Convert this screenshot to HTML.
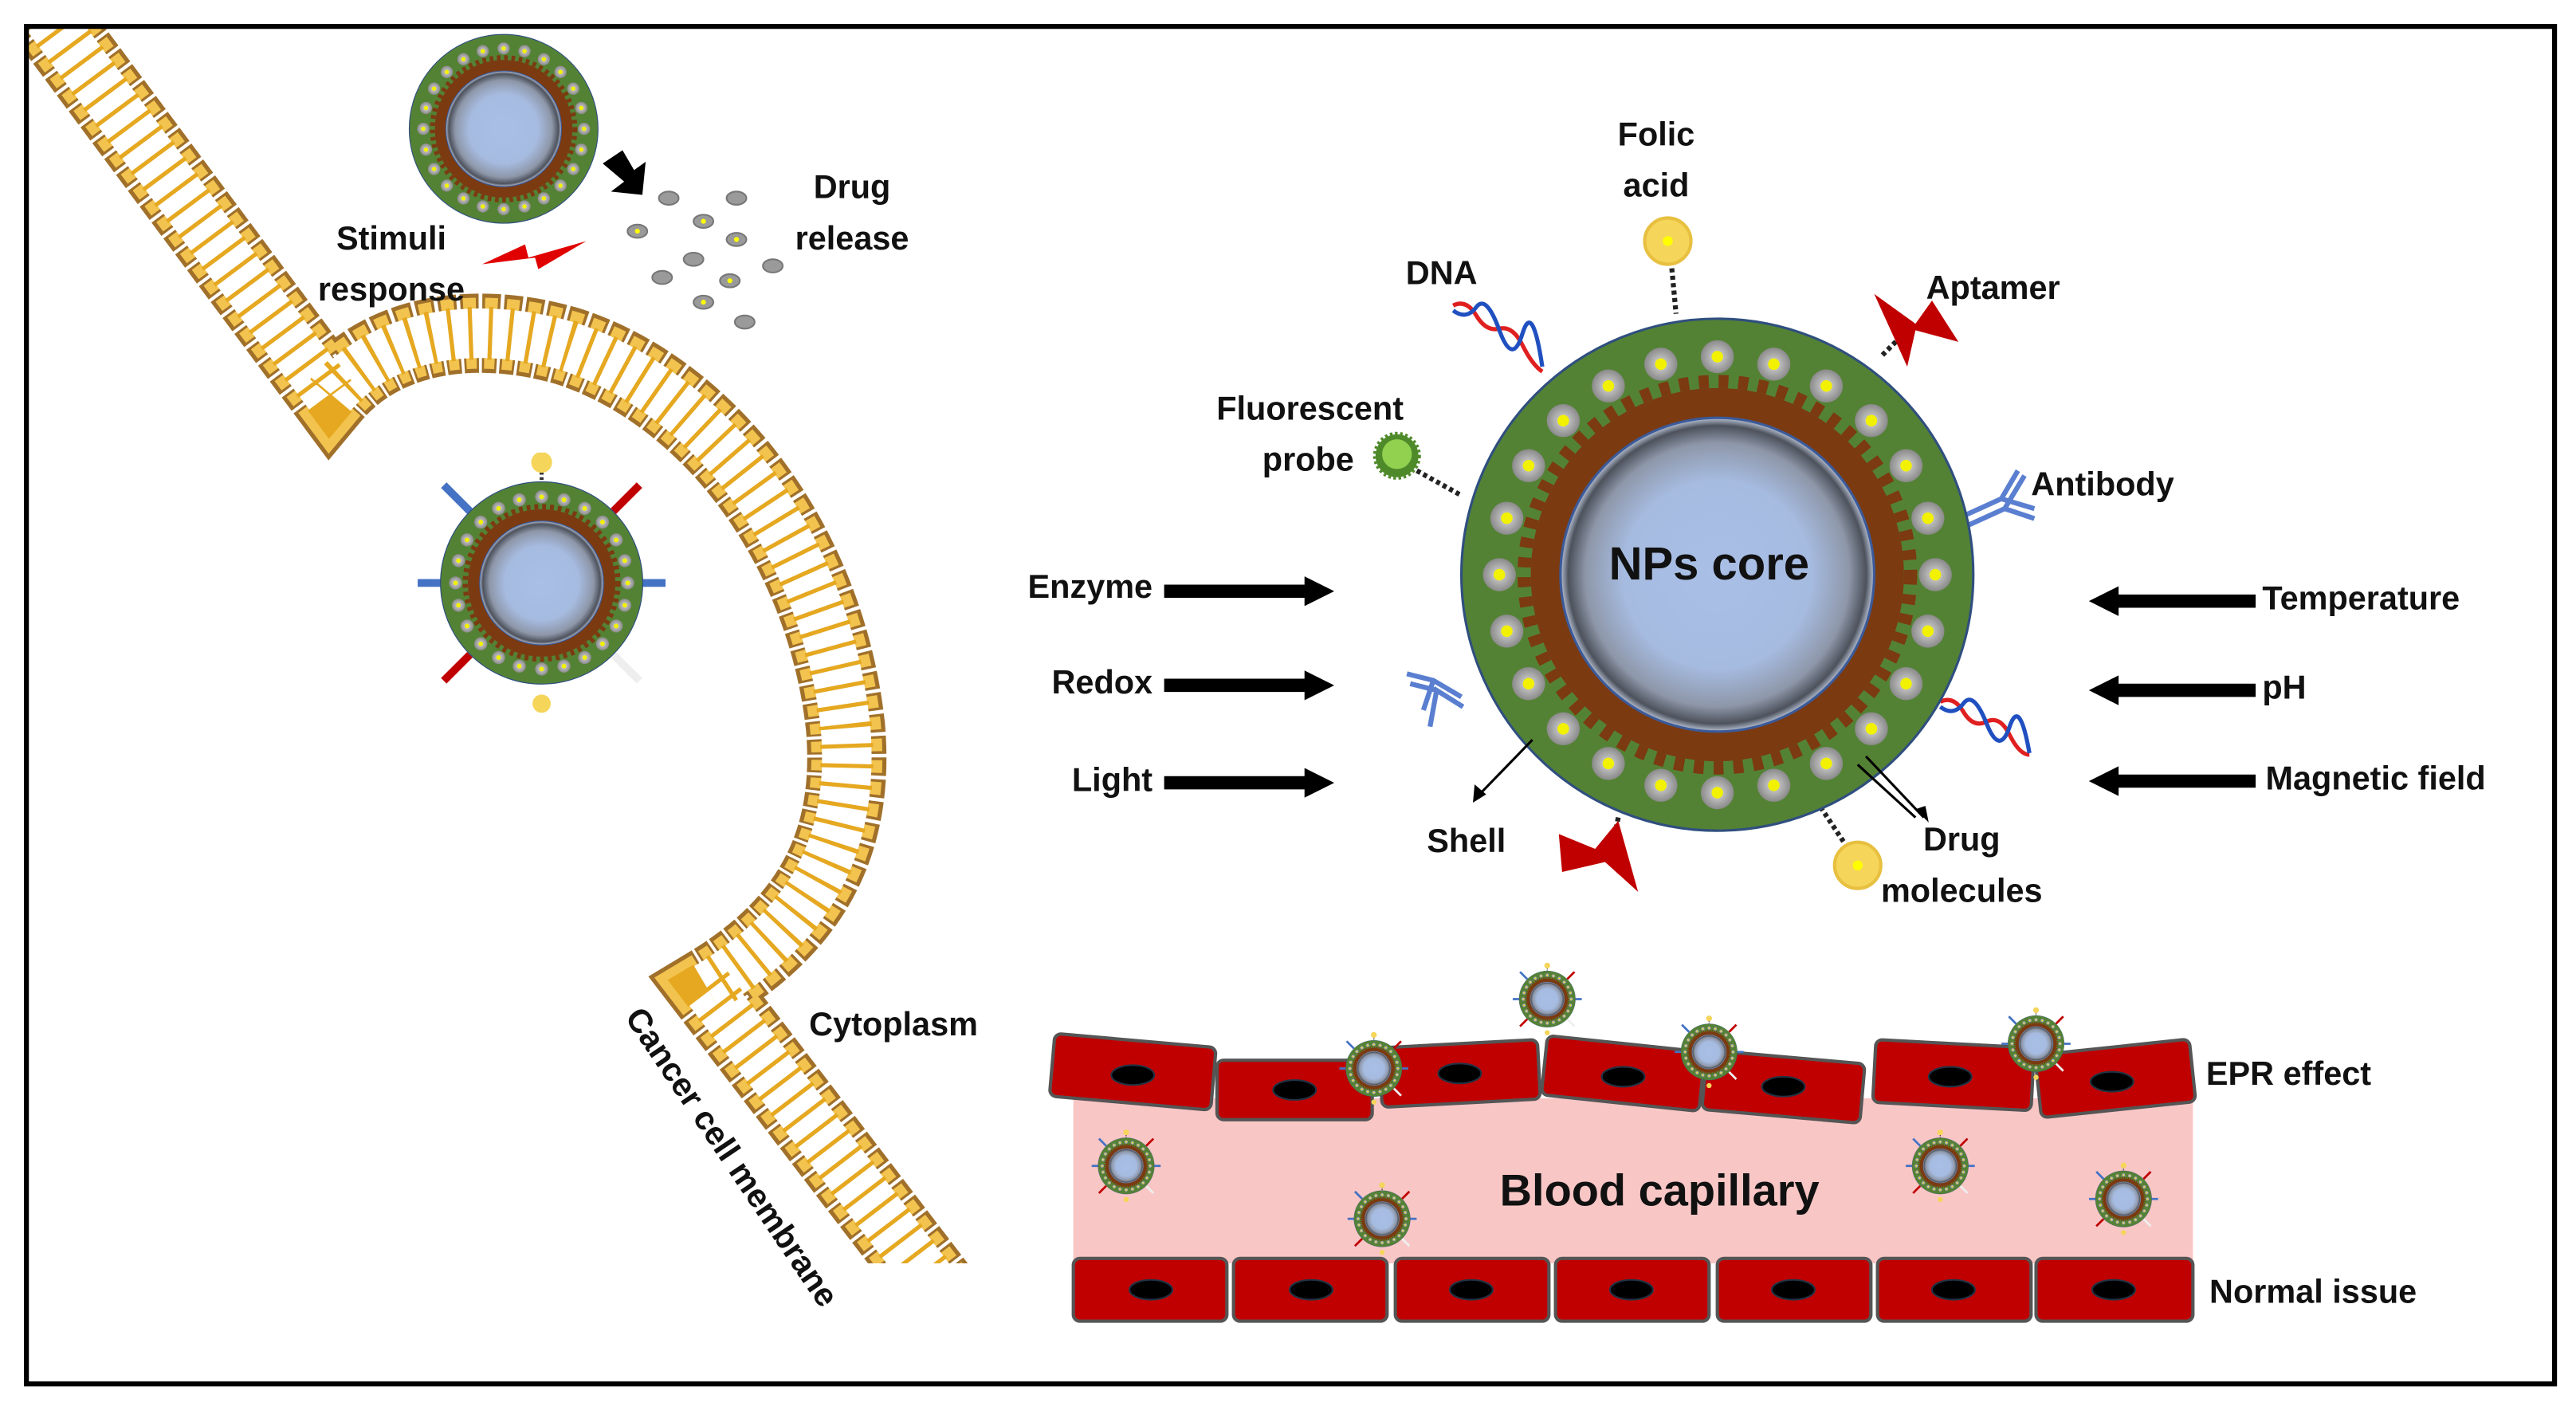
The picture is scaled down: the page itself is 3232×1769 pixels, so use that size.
<!DOCTYPE html>
<html><head><meta charset="utf-8"><style>
html,body{margin:0;padding:0;background:#fff}
svg{display:block}
text{font-family:"Liberation Sans",sans-serif;font-weight:bold;fill:#111}
</style></head><body>
<svg width="3232" height="1769" viewBox="0 0 1560 853.8" preserveAspectRatio="none" xmlns="http://www.w3.org/2000/svg">
<defs>
<radialGradient id="core" cx="50%" cy="50%" r="50%">
<stop offset="0" stop-color="#a9bfe6"/><stop offset="0.6" stop-color="#a6bbe0"/>
<stop offset="0.84" stop-color="#8e97a9"/><stop offset="0.95" stop-color="#4d525c"/><stop offset="1" stop-color="#b9c3d6"/>
</radialGradient>
<radialGradient id="dot" cx="50%" cy="50%" r="50%">
<stop offset="0" stop-color="#d8d8d8"/><stop offset="1" stop-color="#8a8a8a"/>
</radialGradient>
<g id="d"><circle r="10" fill="url(#dot)"/><circle r="3.5" fill="#f2f200"/></g>
<symbol id="np" viewBox="-160 -160 320 320">
<circle r="155" fill="#548235" stroke="#2f4f7f" stroke-width="1.5"/>
<circle r="113" fill="#7b3a10"/>
<circle r="117" fill="none" stroke="#7b3a10" stroke-width="8" stroke-dasharray="6 6"/>
<circle r="95" fill="url(#core)" stroke="#3b5a9a" stroke-width="1.5"/>
<use href="#d" x="132" y="0"/><use href="#d" x="127.5" y="34.2"/><use href="#d" x="114.3" y="66"/><use href="#d" x="93.3" y="93.3"/>
<use href="#d" x="66" y="114.3"/><use href="#d" x="34.2" y="127.5"/><use href="#d" x="0" y="132"/><use href="#d" x="-34.2" y="127.5"/>
<use href="#d" x="-66" y="114.3"/><use href="#d" x="-93.3" y="93.3"/><use href="#d" x="-114.3" y="66"/><use href="#d" x="-127.5" y="34.2"/>
<use href="#d" x="-132" y="0"/><use href="#d" x="-127.5" y="-34.2"/><use href="#d" x="-114.3" y="-66"/><use href="#d" x="-93.3" y="-93.3"/>
<use href="#d" x="-66" y="-114.3"/><use href="#d" x="-34.2" y="-127.5"/><use href="#d" x="0" y="-132"/><use href="#d" x="34.2" y="-127.5"/>
<use href="#d" x="66" y="-114.3"/><use href="#d" x="93.3" y="-93.3"/><use href="#d" x="114.3" y="-66"/><use href="#d" x="127.5" y="-34.2"/>
</symbol>
<symbol id="npl" viewBox="-200 -200 400 400">
<line x1="0" y1="-150" x2="0" y2="-190" stroke="#333" stroke-width="6" stroke-dasharray="4 4"/>
<circle cx="0" cy="-185" r="16" fill="#f5d55a"/>
<line x1="-110" y1="-110" x2="-150" y2="-150" stroke="#4472c4" stroke-width="12"/>
<line x1="110" y1="-110" x2="150" y2="-150" stroke="#c00000" stroke-width="12"/>
<line x1="-155" y1="0" x2="-190" y2="0" stroke="#4472c4" stroke-width="12"/>
<line x1="155" y1="0" x2="190" y2="0" stroke="#4472c4" stroke-width="12"/>
<line x1="-110" y1="110" x2="-150" y2="150" stroke="#c00000" stroke-width="12"/>
<line x1="110" y1="110" x2="150" y2="150" stroke="#eee" stroke-width="12"/>
<circle cx="0" cy="185" r="14" fill="#f5d55a"/>
<use href="#np" x="-160" y="-160" width="320" height="320"/>
</symbol>
<path id="mem" d="M 25,5 L 200,240 C 235,198 295,195 345,210 C 430,238 500,330 512,440 C 518,510 492,560 428,598 L 575,790"/>
<clipPath id="mc"><rect x="17" y="17" width="1500" height="748"/></clipPath>
</defs>
<rect x="0" y="0" width="1560" height="853.8" fill="#fff"/>

<!-- membrane -->
<g clip-path="url(#mc)" fill="none">
<use href="#mem" style="stroke:#a0702a;stroke-width:48;stroke-dasharray:10 2;fill:none"/>
<use href="#mem" style="stroke:#f2c34e;stroke-width:43;stroke-dasharray:7 5;stroke-dashoffset:-1.5;fill:none"/>
<use href="#mem" style="stroke:#fff;stroke-width:30;fill:none"/>
<use href="#mem" style="stroke:#e5a820;stroke-width:32;stroke-dasharray:2.5 9.5;stroke-dashoffset:-3.75;fill:none"/>
</g>

<!-- border -->
<rect x="16" y="16" width="1531" height="822" fill="none" stroke="#000" stroke-width="3"/>

<!-- top small NP and drug release -->
<use href="#np" x="246" y="19" width="118" height="118"/>
<polygon points="365,99 377,91 384,103 391,98 389,118 370,116 378,110" fill="#000"/>
<polygon points="292,160 318,148 320,156 355,146 326,163 324,156" fill="#e00000"/>
<g fill="#9a9a9a" stroke="#777" stroke-width="1">
<ellipse cx="386" cy="140" rx="6" ry="4"/><ellipse cx="405" cy="120" rx="6" ry="4"/><ellipse cx="426" cy="134" rx="6" ry="4"/>
<ellipse cx="446" cy="120" rx="6" ry="4"/><ellipse cx="446" cy="145" rx="6" ry="4"/><ellipse cx="420" cy="157" rx="6" ry="4"/>
<ellipse cx="401" cy="168" rx="6" ry="4"/><ellipse cx="442" cy="170" rx="6" ry="4"/><ellipse cx="468" cy="161" rx="6" ry="4"/>
<ellipse cx="426" cy="183" rx="6" ry="4"/><ellipse cx="451" cy="195" rx="6" ry="4"/>
</g>
<g fill="#ff0" ><circle cx="386" cy="140" r="1.5"/><circle cx="426" cy="134" r="1.5"/><circle cx="446" cy="145" r="1.5"/><circle cx="442" cy="170" r="1.5"/><circle cx="426" cy="183" r="1.5"/></g>
<text x="516" y="120" font-size="20" text-anchor="middle">Drug</text>
<text x="516" y="151" font-size="20" text-anchor="middle">release</text>
<text x="237" y="151" font-size="20" text-anchor="middle">Stimuli</text>
<text x="237" y="182" font-size="20" text-anchor="middle">response</text>

<!-- middle NP with ligands -->
<use href="#npl" x="249" y="274" width="158" height="158"/>

<!-- big NP ligands -->
<g stroke="#222" stroke-width="3" stroke-dasharray="2.5 2" fill="none">
<line x1="1012" y1="158" x2="1015" y2="190"/>
<line x1="1140" y1="215" x2="1155" y2="200"/>
<line x1="858" y1="285" x2="885" y2="300"/>
<line x1="1100" y1="485" x2="1120" y2="515"/>
<line x1="980" y1="495" x2="975" y2="520"/>
</g>
<circle cx="1010" cy="146" r="14" fill="#f5d55a" stroke="#e8c040" stroke-width="2"/><circle cx="1010" cy="146" r="3" fill="#ff0"/>
<circle cx="1125" cy="524" r="14" fill="#f5d55a" stroke="#e8c040" stroke-width="2"/><circle cx="1125" cy="524" r="3" fill="#ff0"/>
<circle cx="846" cy="276" r="13" fill="#4f8a2a" stroke="#4f8a2a" stroke-width="3" stroke-dasharray="1.5 1.5"/><circle cx="846" cy="275" r="9" fill="#92d050"/>
<polygon points="1135,178 1160,196 1170,182 1186,207 1160,200 1155,222" fill="#c00000"/>
<polygon points="944,505 966,514 980,497 992,540 972,522 946,528" fill="#c00000"/>
<path d="M 880,185 q 8,-4 14,6 t 14,8 t 14,10 t 12,16" stroke="#e02020" stroke-width="2.5" fill="none"/>
<path d="M 880,188 q 8,6 14,-2 t 14,14 t 14,2 t 12,20" stroke="#2050c0" stroke-width="2.5" fill="none"/>
<path d="M 1175,425 q 8,-4 14,6 t 14,6 t 14,8 t 12,12" stroke="#e02020" stroke-width="2.5" fill="none"/>
<path d="M 1175,428 q 8,6 14,-2 t 14,12 t 14,2 t 12,16" stroke="#2050c0" stroke-width="2.5" fill="none"/>
<g stroke="#5b7fd0" stroke-width="3" fill="none">
<path d="M 1190,312 L 1212,302 L 1222,285 M 1212,302 L 1232,308 M 1192,318 L 1214,308 L 1232,314 M 1214,308 L 1226,288"/>
<path d="M 885,422 L 868,412 L 852,408 M 868,412 L 862,430 M 886,428 L 870,418 L 866,440 M 870,418 L 854,414"/>
</g>

<!-- big NP -->
<use href="#np" x="880" y="188" width="320" height="320"/>
<text x="1035" y="351" font-size="28" text-anchor="middle">NPs core</text>

<!-- labels around -->
<text x="1003" y="88" font-size="20" text-anchor="middle">Folic</text>
<text x="1003" y="119" font-size="20" text-anchor="middle">acid</text>
<text x="873" y="172" font-size="20" text-anchor="middle">DNA</text>
<text x="1207" y="181" font-size="20" text-anchor="middle">Aptamer</text>
<text x="850" y="254" font-size="20" text-anchor="end">Fluorescent</text>
<text x="820" y="285" font-size="20" text-anchor="end">probe</text>
<text x="1230" y="300" font-size="20">Antibody</text>
<text x="888" y="516" font-size="20" text-anchor="middle">Shell</text>
<text x="1188" y="515" font-size="20" text-anchor="middle">Drug</text>
<text x="1188" y="546" font-size="20" text-anchor="middle">molecules</text>
<g stroke="#000" stroke-width="1.5" fill="none">
<line x1="928" y1="448" x2="895" y2="482"/>
<line x1="1130" y1="458" x2="1165" y2="495"/>
<line x1="1125" y1="463" x2="1160" y2="495"/>
</g>
<polygon points="892,486 893,475 900,481" fill="#000"/>
<polygon points="1168,498 1160,490 1166,488" fill="#000"/>

<!-- stimuli arrows -->
<text x="698" y="362" font-size="20" text-anchor="end">Enzyme</text>
<text x="698" y="420" font-size="20" text-anchor="end">Redox</text>
<text x="698" y="479" font-size="20" text-anchor="end">Light</text>
<g fill="#000">
<polygon points="705,354 790,354 790,349 808,358 790,367 790,362 705,362"/>
<polygon points="705,411 790,411 790,406 808,415 790,424 790,419 705,419"/>
<polygon points="705,470 790,470 790,465 808,474 790,483 790,478 705,478"/>
<polygon points="1366,360 1283,360 1283,355 1265,364 1283,373 1283,368 1366,368"/>
<polygon points="1366,414 1283,414 1283,409 1265,418 1283,427 1283,422 1366,422"/>
<polygon points="1366,469 1283,469 1283,464 1265,473 1283,482 1283,477 1366,477"/>
</g>
<text x="1370" y="369" font-size="20">Temperature</text>
<text x="1370" y="423" font-size="20">pH</text>
<text x="1372" y="478" font-size="20">Magnetic field</text>

<!-- cancer membrane labels -->
<text x="490" y="627" font-size="20">Cytoplasm</text>
<text x="0" y="0" font-size="20" transform="translate(378,616) rotate(56)">Cancer cell membrane</text>

<!-- capillary -->
<rect x="650" y="665" width="678" height="100" fill="#f9c6c6"/>
<g fill="#c00000" stroke="#555" stroke-width="2">
<rect x="637" y="630" width="98" height="38" rx="4" transform="rotate(5 686 649)"/>
<rect x="737" y="642" width="94" height="36" rx="4"/>
<rect x="836" y="632" width="96" height="36" rx="4" transform="rotate(-3 884 650)"/>
<rect x="935" y="632" width="96" height="36" rx="4" transform="rotate(6 983 650)"/>
<rect x="1032" y="640" width="96" height="36" rx="4" transform="rotate(5 1080 658)"/>
<rect x="1135" y="632" width="96" height="38" rx="4" transform="rotate(3 1183 651)"/>
<rect x="1234" y="634" width="94" height="38" rx="4" transform="rotate(-6 1281 653)"/>
<rect x="650" y="762" width="93" height="38" rx="4"/>
<rect x="747" y="762" width="93" height="38" rx="4"/>
<rect x="845" y="762" width="93" height="38" rx="4"/>
<rect x="942" y="762" width="93" height="38" rx="4"/>
<rect x="1040" y="762" width="93" height="38" rx="4"/>
<rect x="1137" y="762" width="93" height="38" rx="4"/>
<rect x="1233" y="762" width="95" height="38" rx="4"/>
</g>
<g fill="#000" stroke="#234" stroke-width="1">
<ellipse cx="686" cy="651" rx="13" ry="6"/><ellipse cx="784" cy="660" rx="13" ry="6"/><ellipse cx="884" cy="650" rx="13" ry="6"/>
<ellipse cx="983" cy="652" rx="13" ry="6"/><ellipse cx="1080" cy="658" rx="13" ry="6"/><ellipse cx="1181" cy="652" rx="13" ry="6"/><ellipse cx="1279" cy="655" rx="13" ry="6"/>
<ellipse cx="697" cy="781" rx="13" ry="6"/><ellipse cx="794" cy="781" rx="13" ry="6"/><ellipse cx="891" cy="781" rx="13" ry="6"/>
<ellipse cx="988" cy="781" rx="13" ry="6"/><ellipse cx="1086" cy="781" rx="13" ry="6"/><ellipse cx="1183" cy="781" rx="13" ry="6"/><ellipse cx="1280" cy="781" rx="13" ry="6"/>
</g>
<use href="#npl" x="915" y="583" width="44" height="44"/>
<use href="#npl" x="810" y="625" width="44" height="44"/>
<use href="#npl" x="1013" y="615" width="44" height="44"/>
<use href="#npl" x="1211" y="610" width="44" height="44"/>
<use href="#npl" x="660" y="684" width="44" height="44"/>
<use href="#npl" x="815" y="716" width="44" height="44"/>
<use href="#npl" x="1153" y="684" width="44" height="44"/>
<use href="#npl" x="1264" y="704" width="44" height="44"/>
<text x="1005" y="730" font-size="27" text-anchor="middle">Blood capillary</text>
<text x="1336" y="657" font-size="20">EPR effect</text>
<text x="1338" y="789" font-size="20">Normal issue</text>
</svg>
</body></html>
